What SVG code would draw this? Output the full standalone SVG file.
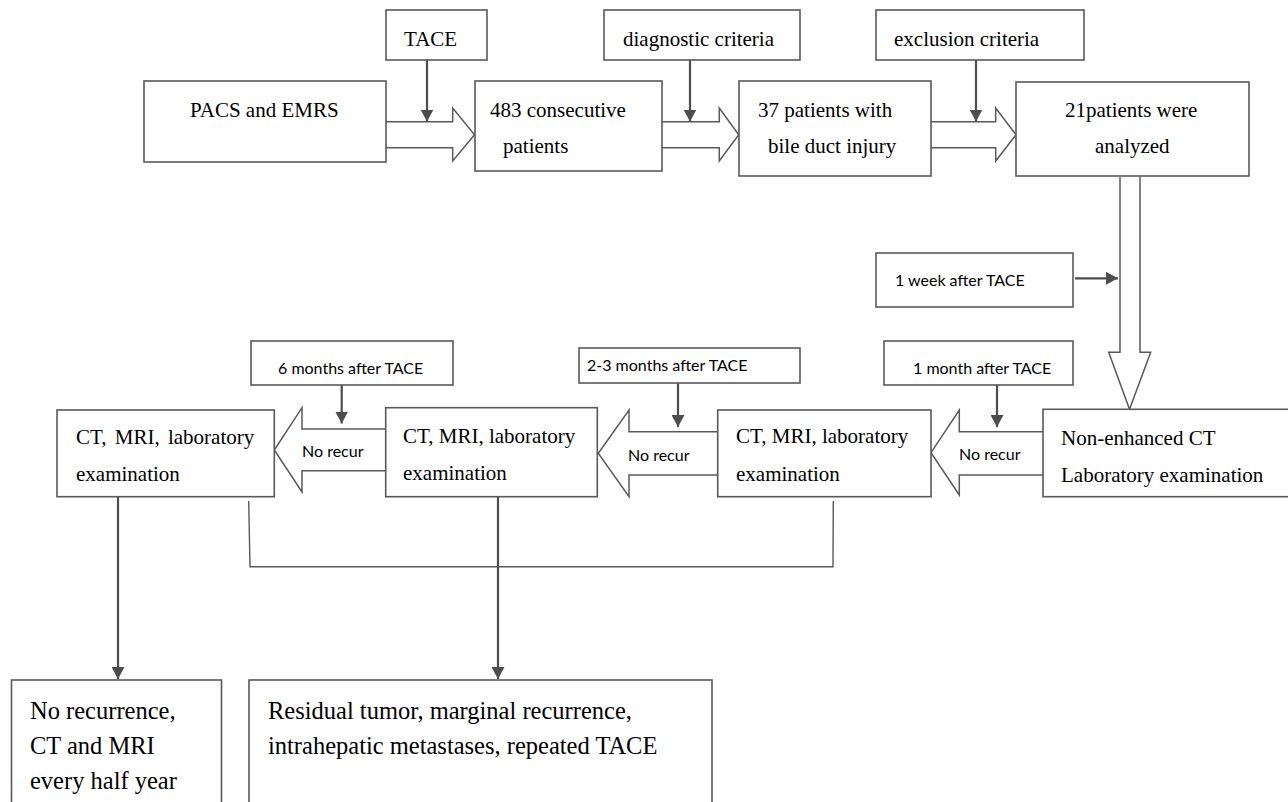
<svg xmlns="http://www.w3.org/2000/svg" width="1288" height="802" viewBox="0 0 1288 802">
<defs>
<style>
.box{fill:#fff;stroke:#595959;stroke-width:1.6}
.blk{fill:#fff;stroke:#595959;stroke-width:1.5;stroke-linejoin:miter}
.ln{fill:none;stroke:#4d4d4d;stroke-width:2.2}
.br{fill:none;stroke:#595959;stroke-width:1.4}
.t{font-family:"Liberation Serif","Times New Roman",serif;font-size:21px;fill:#000}
.b{font-family:"Liberation Serif","Times New Roman",serif;font-size:24.5px;fill:#000}
.s{font-family:Lato,"Liberation Sans",Arial,sans-serif;font-size:16px;fill:#000}
</style>
<marker id="ah" viewBox="0 0 12 13" refX="12" refY="6.5" markerWidth="12" markerHeight="13" markerUnits="userSpaceOnUse" orient="auto">
<path d="M0,0 L12,6.5 L0,13 Z" fill="#4d4d4d"/>
</marker>
</defs>
<rect width="1288" height="802" fill="#fff"/>

<g id="connectors">
<path class="blk" d="M386,121.7 H452.7 V108 L474.5,134.7 L452.7,161 V147.7 H386"/>
<path class="blk" d="M662,121.7 H719.3 V108 L738.7,134.7 L719.3,161 V147.7 H662"/>
<path class="blk" d="M931,121.7 H995.7 V108 L1016,134.7 L995.7,161 V147.7 H931"/>
<path class="blk" d="M1120,177 V352.3 H1108.7 L1129.5,409.3 L1150.7,352.3 H1140 V177"/>
<path class="blk" d="M1043,431.7 H959.3 V410 L931,452.7 L959.3,495 V475 H1043"/>
<path class="blk" d="M717.7,431.7 H629 V410 L598.3,453.3 L629,496.7 V475 H717.7"/>
<path class="blk" d="M385.7,429 H302 V407.7 L274.3,450 L302,492 V470.7 H385.7"/>
<line class="ln" x1="427" y1="60" x2="427" y2="121.5" marker-end="url(#ah)"/>
<line class="ln" x1="690" y1="60" x2="690" y2="121.5" marker-end="url(#ah)"/>
<line class="ln" x1="976" y1="60" x2="976" y2="121.5" marker-end="url(#ah)"/>
<line class="ln" x1="1075" y1="278.3" x2="1118" y2="278.3" marker-end="url(#ah)"/>
<line class="ln" x1="997" y1="385" x2="997" y2="427" marker-end="url(#ah)"/>
<line class="ln" x1="678" y1="383.3" x2="678" y2="427" marker-end="url(#ah)"/>
<line class="ln" x1="341.7" y1="385" x2="341.7" y2="423.5" marker-end="url(#ah)"/>
<line class="ln" x1="118" y1="497" x2="118" y2="679" marker-end="url(#ah)"/>
<line class="ln" x1="498" y1="497" x2="498" y2="679" marker-end="url(#ah)"/>
<path class="br" d="M833.3,501 L833,566.7 H250 L248.7,501"/>
<text class="s" x="959" y="460">No recur</text>
<text class="s" x="628" y="461">No recur</text>
<text class="s" x="302" y="457">No recur</text>
</g>

<g id="n-tace"><rect class="box" x="386" y="10" width="101" height="50"/><text class="t" x="404" y="46">TACE</text></g>
<g id="n-diag"><rect class="box" x="604" y="10" width="196" height="50"/><text class="t" x="623" y="46">diagnostic criteria</text></g>
<g id="n-excl"><rect class="box" x="876" y="10" width="208" height="50"/><text class="t" x="894" y="46">exclusion criteria</text></g>
<g id="n-pacs"><rect class="box" x="144" y="81" width="242" height="81"/><text class="t" x="190" y="117">PACS and EMRS</text></g>
<g id="n-483"><rect class="box" x="475" y="81" width="187" height="90"/><text class="t" x="490" y="117">483 consecutive</text><text class="t" x="503" y="153">patients</text></g>
<g id="n-37"><rect class="box" x="739" y="81" width="192" height="95"/><text class="t" x="758" y="117">37 patients with</text><text class="t" x="768" y="153">bile duct injury</text></g>
<g id="n-21"><rect class="box" x="1016" y="82" width="233" height="94"/><text class="t" x="1065" y="117">21patients were</text><text class="t" x="1095" y="153">analyzed</text></g>
<g id="n-1week"><rect class="box" x="876" y="253" width="197" height="54"/><text class="s" x="895" y="286">1 week after TACE</text></g>
<g id="n-1month"><rect class="box" x="884" y="341" width="189" height="44"/><text class="s" x="913" y="374">1 month after TACE</text></g>
<g id="n-23months"><rect class="box" x="579" y="348" width="221" height="35"/><text class="s" x="587" y="371">2-3 months after TACE</text></g>
<g id="n-6months"><rect class="box" x="251" y="341" width="202" height="44"/><text class="s" x="278" y="374">6 months after TACE</text></g>
<g id="n-nonenh"><rect class="box" x="1043" y="409.3" width="250" height="87.4"/><text class="t" x="1061" y="445">Non-enhanced CT</text><text class="t" x="1061" y="482">Laboratory examination</text></g>
<g id="n-ct3"><rect class="box" x="717.7" y="410" width="213.3" height="86.7"/><text class="t" x="736" y="443">CT, MRI, laboratory</text><text class="t" x="736" y="481">examination</text></g>
<g id="n-ct2"><rect class="box" x="385.7" y="407.7" width="211.6" height="89"/><text class="t" x="403" y="443">CT, MRI, laboratory</text><text class="t" x="403" y="480">examination</text></g>
<g id="n-ct1"><rect class="box" x="57" y="410" width="217.3" height="86.7"/><text class="t" x="76" y="444" word-spacing="3">CT, MRI, laboratory</text><text class="t" x="76" y="481">examination</text></g>
<g id="n-norec"><rect class="box" x="11.5" y="680" width="210" height="130"/>
<text class="b" x="30" y="719">No recurrence,</text>
<text class="b" x="30" y="754">CT and MRI</text>
<text class="b" x="30" y="789">every half year</text></g>
<g id="n-resid"><rect class="box" x="249" y="680" width="463" height="130"/>
<text class="b" x="268" y="719">Residual tumor, marginal recurrence,</text>
<text class="b" x="268" y="754">intrahepatic metastases, repeated TACE</text></g>
</svg>
